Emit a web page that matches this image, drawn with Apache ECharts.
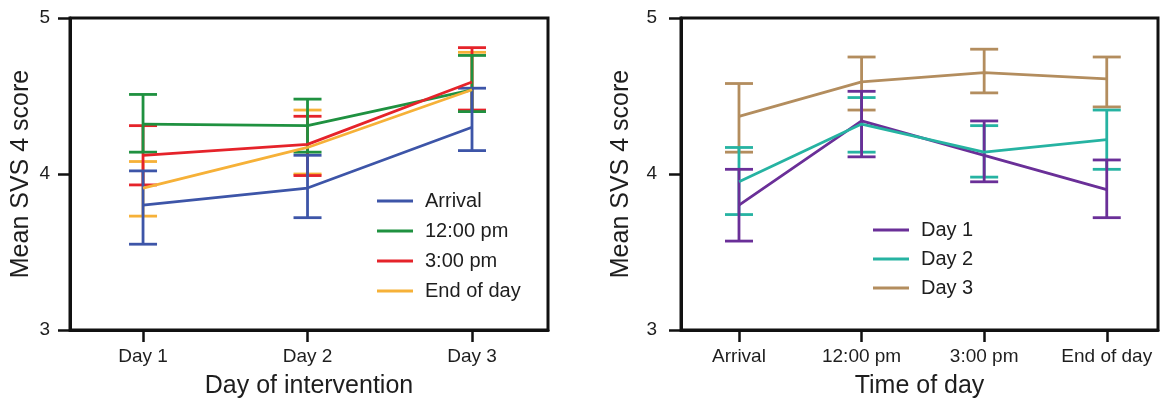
<!DOCTYPE html>
<html>
<head>
<meta charset="utf-8">
<script src="https://cdn.jsdelivr.net/npm/echarts@6/dist/echarts.min.js"></script>
<style>
  html, body { margin: 0; padding: 0; background: #fff; }
  #chart { width: 1165px; height: 404px; }
</style>
</head>
<body>
<div id="chart"></div>
<script>
// Left panel: score by day of intervention, one line per time of day
const dayCategories = ['Day 1', 'Day 2', 'Day 3'];
const arrivalMean = [3.80, 3.91, 4.30];
const arrivalLow  = [3.55, 3.72, 4.15];
const arrivalHigh = [4.02, 4.12, 4.55];
const noonMean = [4.32, 4.31, 4.54];
const noonLow  = [4.14, 4.14, 4.40];
const noonHigh = [4.51, 4.48, 4.76];
const threeMean = [4.12, 4.19, 4.59];
const threeLow  = [3.93, 3.99, 4.41];
const threeHigh = [4.31, 4.37, 4.81];
const endMean = [3.91, 4.17, 4.54];
const endLow  = [3.73, 4.00, 4.40];
const endHigh = [4.08, 4.41, 4.78];

// Right panel: score by time of day, one line per day
const timeCategories = ['Arrival', '12:00 pm', '3:00 pm', 'End of day'];
const day1Mean = [3.80, 4.34, 4.12, 3.90];
const day1Low  = [3.57, 4.11, 3.95, 3.72];
const day1High = [4.03, 4.53, 4.34, 4.09];
const day2Mean = [3.95, 4.32, 4.14, 4.22];
const day2Low  = [3.74, 4.14, 3.98, 4.03];
const day2High = [4.17, 4.49, 4.31, 4.41];
const day3Mean = [4.37, 4.59, 4.65, 4.61];
const day3Low  = [4.14, 4.41, 4.52, 4.43];
const day3High = [4.58, 4.75, 4.80, 4.75];

const yTicks = [3, 4, 5];

const TEXT = '#1e1e1e';
const FONT = 'Liberation Sans, Arial, sans-serif';
const LINE_W = 2.8;
const CAP_HALF = 14;

const leftSeries = [
  { name: 'Arrival',    color: '#3d55a8', mean: arrivalMean, low: arrivalLow, high: arrivalHigh },
  { name: '12:00 pm',   color: '#1f9140', mean: noonMean,    low: noonLow,    high: noonHigh },
  { name: '3:00 pm',    color: '#e5232a', mean: threeMean,   low: threeLow,   high: threeHigh },
  { name: 'End of day', color: '#f6b138', mean: endMean,     low: endLow,     high: endHigh }
];
const rightSeries = [
  { name: 'Day 1', color: '#6a2f98', mean: day1Mean, low: day1Low, high: day1High },
  { name: 'Day 2', color: '#26b3a2', mean: day2Mean, low: day2Low, high: day2High },
  { name: 'Day 3', color: '#b38d5e', mean: day3Mean, low: day3Low, high: day3High }
];

// x positions: 1..3 on the left panel, 0..3 on the right panel
const leftX = dayCategories.map((_, i) => i + 1);
const rightX = timeCategories.map((_, i) => i);

function errorBarRender(color) {
  return function (params, api) {
    const x = api.value(0);
    const top = api.coord([x, api.value(2)]);
    const bot = api.coord([x, api.value(1)]);
    const style = { stroke: color, lineWidth: LINE_W, fill: null };
    return {
      type: 'group',
      children: [
        { type: 'line', shape: { x1: top[0], y1: top[1], x2: bot[0], y2: bot[1] }, style },
        { type: 'line', shape: { x1: top[0] - CAP_HALF, y1: top[1], x2: top[0] + CAP_HALF, y2: top[1] }, style },
        { type: 'line', shape: { x1: bot[0] - CAP_HALF, y1: bot[1], x2: bot[0] + CAP_HALF, y2: bot[1] }, style }
      ]
    };
  };
}

function buildSeries(list, xs, axisIndex) {
  const out = [];
  const n = list.length;
  list.forEach((s, k) => {
    // range bars: earlier series drawn on top
    out.push({
      type: 'custom',
      name: s.name + ' range',
      xAxisIndex: axisIndex, yAxisIndex: axisIndex,
      renderItem: errorBarRender(s.color),
      data: xs.map((x, i) => [x, s.low[i], s.high[i]]),
      encode: { x: 0, y: [1, 2] },
      z: 2 + (n - k) * 0.1,
      silent: true
    });
    out.push({
      type: 'line',
      name: s.name,
      xAxisIndex: axisIndex, yAxisIndex: axisIndex,
      data: xs.map((x, i) => [x, s.mean[i]]),
      showSymbol: false,
      symbol: 'none',
      lineStyle: { color: s.color, width: LINE_W },
      itemStyle: { color: s.color },
      z: 3,
      silent: true
    });
  });
  return out;
}

function xAxis(gridIndex, min, max, xs, labels, title) {
  return {
    type: 'value', gridIndex, min, max,
    axisLine: { show: true, onZero: false, lineStyle: { color: '#111', width: 3 } },
    axisTick: { show: true, length: 12, customValues: xs, lineStyle: { color: '#111', width: 2.5 } },
    axisLabel: {
      customValues: xs, margin: 17, color: TEXT, fontSize: 19, fontFamily: FONT,
      formatter: v => labels[Math.round(v) - xs[0]]
    },
    splitLine: { show: false },
    name: title, nameLocation: 'middle', nameGap: 44,
    nameTextStyle: { color: TEXT, fontSize: 25, fontFamily: FONT }
  };
}

function yAxis(gridIndex, nameGap, labelMargin) {
  return {
    type: 'value', gridIndex, min: 3, max: 5, interval: 1,
    axisLine: { show: true, onZero: false, lineStyle: { color: '#111', width: 3 } },
    axisTick: { show: true, length: 12, customValues: yTicks, lineStyle: { color: '#111', width: 2.5 } },
    axisLabel: { customValues: yTicks, margin: labelMargin, color: TEXT, fontSize: 19, fontFamily: FONT },
    splitLine: { show: false },
    name: 'Mean SVS 4 score', nameLocation: 'middle', nameGap,
    nameTextStyle: { color: TEXT, fontSize: 25, fontFamily: FONT }
  };
}

function legend(names, left, top, itemGap) {
  return {
    data: names, orient: 'vertical', left, top, padding: 0,
    icon: 'rect', itemWidth: 36, itemHeight: 3, itemGap,
    selectedMode: false,
    textStyle: { color: TEXT, fontSize: 20, fontFamily: FONT, padding: [0, 0, 0, 7] }
  };
}

const chart = echarts.init(document.getElementById('chart'), null, { renderer: 'canvas' });
chart.setOption({
  backgroundColor: '#ffffff',
  animation: false,
  grid: [
    { left: 70, top: 18, width: 478, height: 313, show: true, borderColor: '#111', borderWidth: 3, backgroundColor: 'transparent' },
    { left: 681, top: 18, width: 477, height: 313, show: true, borderColor: '#111', borderWidth: 3, backgroundColor: 'transparent' }
  ],
  xAxis: [
    xAxis(0, 0.556, 3.462, leftX, dayCategories, 'Day of intervention'),
    xAxis(1, -0.473, 3.418, rightX, timeCategories, 'Time of day')
  ],
  yAxis: [yAxis(0, 36.5, 20), yAxis(1, 47.5, 24)],
  legend: [
    legend(leftSeries.map(s => s.name), 377, 191, 10),
    legend(rightSeries.map(s => s.name), 873, 220, 9)
  ],
  series: buildSeries(leftSeries, leftX, 0).concat(buildSeries(rightSeries, rightX, 1))
});
</script>
</body>
</html>
